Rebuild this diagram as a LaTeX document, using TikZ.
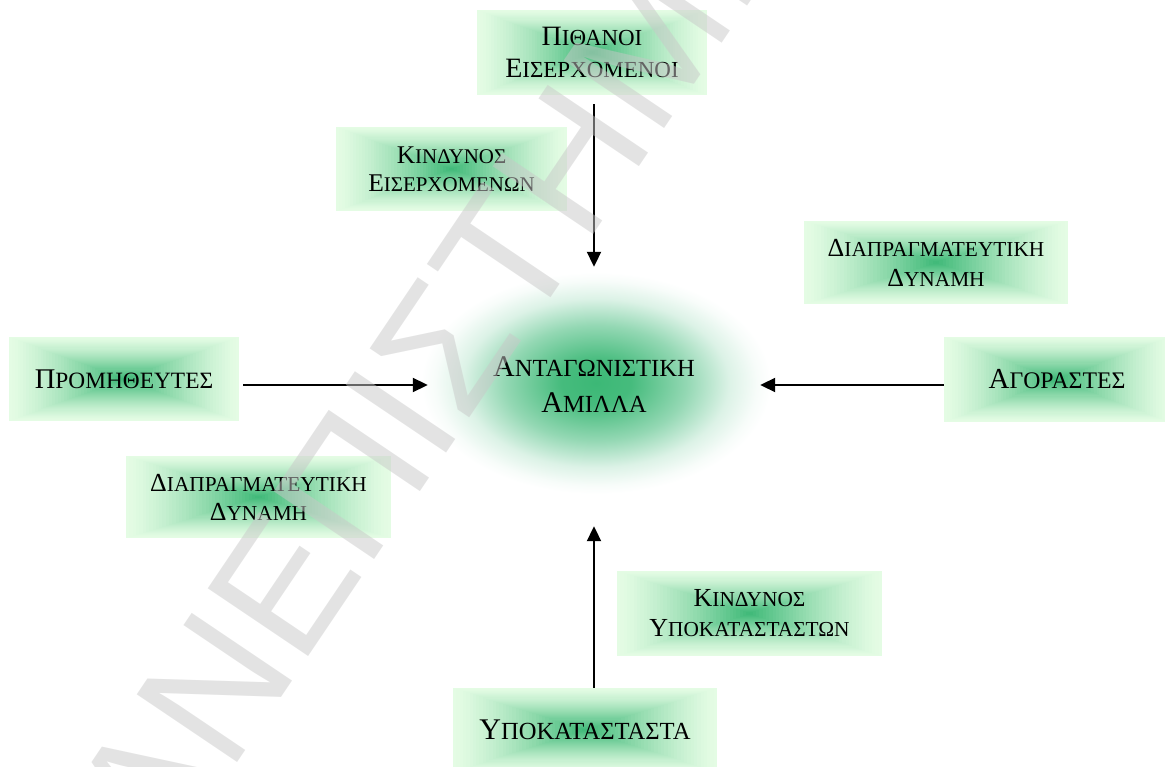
\documentclass[tikz,border=0pt]{standalone}
\usepackage{fontspec}
\setmainfont{Liberation Serif}
\newfontfamily\wmfont{Liberation Sans}
\usetikzlibrary{arrows.meta,calc,shapes.geometric}

\definecolor{gcore}{RGB}{60,184,118}
\definecolor{gedge}{RGB}{228,252,228}
\definecolor{wmgray}{RGB}{200,200,200}

% word in small capitals: first letter at full size, the rest reduced
\makeatletter
\newcommand\capw[2]{#1{\fontsize{\strip@pt\dimexpr\f@size pt*82/100\relax}{0}\selectfont #2}}
\makeatother

% glow behind the central label
\pgfdeclareradialshading{compglow}{\pgfpoint{0bp}{0bp}}{%
  color(0bp)=(gcore); color(5bp)=(gcore!95!white); color(13bp)=(gcore!55!white);
  color(19bp)=(gcore!18!white); color(23bp)=(gcore!4!white); color(25bp)=(white);
  color(50bp)=(white)}

\tikzset{
  gbox/.style n args={2}{rectangle, inner sep=0pt, minimum width=#1, minimum height=#2,
    align=center, fill=gedge,
    path picture={
      \foreach \k in {1,...,40}{
        \pgfmathsetmacro\fr{1-\k/40}
        \pgfmathsetmacro\mx{100*(\k/40)^1.3}
        \fill[gcore!\mx!gedge]
          ($(path picture bounding box.center)!\fr!(path picture bounding box.south west)$)
          rectangle
          ($(path picture bounding box.center)!\fr!(path picture bounding box.north east)$);
      }
    }},
  arr/.style={line width=2pt, -{Triangle[length=15pt,width=14pt]}},
}

\begin{document}
\begin{tikzpicture}[x=1pt,y=-1pt]
\useasboundingbox (0,0) rectangle (1165,767);
\clip (0,0) rectangle (1165,767);

% centre: competitive rivalry on its glow
\shade[shading=compglow] (596,383) ellipse [x radius=175, y radius=111];
\node[ellipse, inner sep=0pt, minimum width=330, minimum height=216,
      align=center, font=\fontsize{30}{36}\selectfont] (comp) at (594,385)
  {\capw{Α}{ΝΤΑΓΩΝΙΣΤΙΚΗ}\\\capw{Α}{ΜΙΛΛΑ}};

% the five forces and their labels
\node[gbox={230}{85}, font=\fontsize{28}{32}\selectfont] (pith) at (592,52.5)
  {\capw{Π}{ΙΘΑΝΟΙ}\\\capw{Ε}{ΙΣΕΡΧΟΜΕΝΟΙ}};
\node[gbox={231}{84}, font=\fontsize{25.5}{28}\selectfont] (kin1) at (451.5,169)
  {\capw{Κ}{ΙΝΔΥΝΟΣ}\\\capw{Ε}{ΙΣΕΡΧΟΜΕΝΩΝ}};
\node[gbox={264}{83}, font=\fontsize{26}{30}\selectfont] (dr) at (936,262.5)
  {\capw{Δ}{ΙΑΠΡΑΓΜΑΤΕΥΤΙΚΗ}\\\capw{Δ}{ΥΝΑΜΗ}};
\node[gbox={230}{84}, font=\fontsize{28.5}{34}\selectfont] (prom) at (124,379)
  {\capw{Π}{ΡΟΜΗΘΕΥΤΕΣ}};
\node[gbox={226}{85}, font=\fontsize{29}{34}\selectfont] (agor) at (1057,379.5)
  {\capw{Α}{ΓΟΡΑΣΤΕΣ}};
\node[gbox={265}{82}, font=\fontsize{26}{29}\selectfont] (dl) at (258.5,497)
  {\capw{Δ}{ΙΑΠΡΑΓΜΑΤΕΥΤΙΚΗ}\\\capw{Δ}{ΥΝΑΜΗ}};
\node[gbox={265}{85}, font=\fontsize{26}{30}\selectfont] (kin2) at (749.5,613.5)
  {\capw{Κ}{ΙΝΔΥΝΟΣ}\\\capw{Υ}{ΠΟΚΑΤΑΣΤΑΣΤΩΝ}};
\node[gbox={264}{84}, font=\fontsize{30}{34}\selectfont] (ypo) at (585,730)
  {\capw{Υ}{ΠΟΚΑΤΑΣΤΑΣΤΑ}};

% forces acting on the rivalry
\draw[arr, shorten <=9pt, shorten >=10pt] (pith.south -| comp.north) -- (comp.north);
\draw[arr, shorten <=4pt, shorten >=1pt] (prom.east |- comp.west) -- (comp.west);
\draw[arr, shorten >=1pt] (agor.west |- comp.east) -- (comp.east);
\draw[arr, shorten >=33pt] (ypo.north -| comp.south) -- (comp.south);

% watermark
\node[rotate=56, anchor=base west, inner sep=0pt, text=wmgray, opacity=0.5, text opacity=0.5,
      font=\wmfont\fontsize{176}{176}\selectfont] (wm) at (93,977) {ΠΑΝΕΠΙΣΤΗΜΙΟ};
\end{tikzpicture}
\end{document}
